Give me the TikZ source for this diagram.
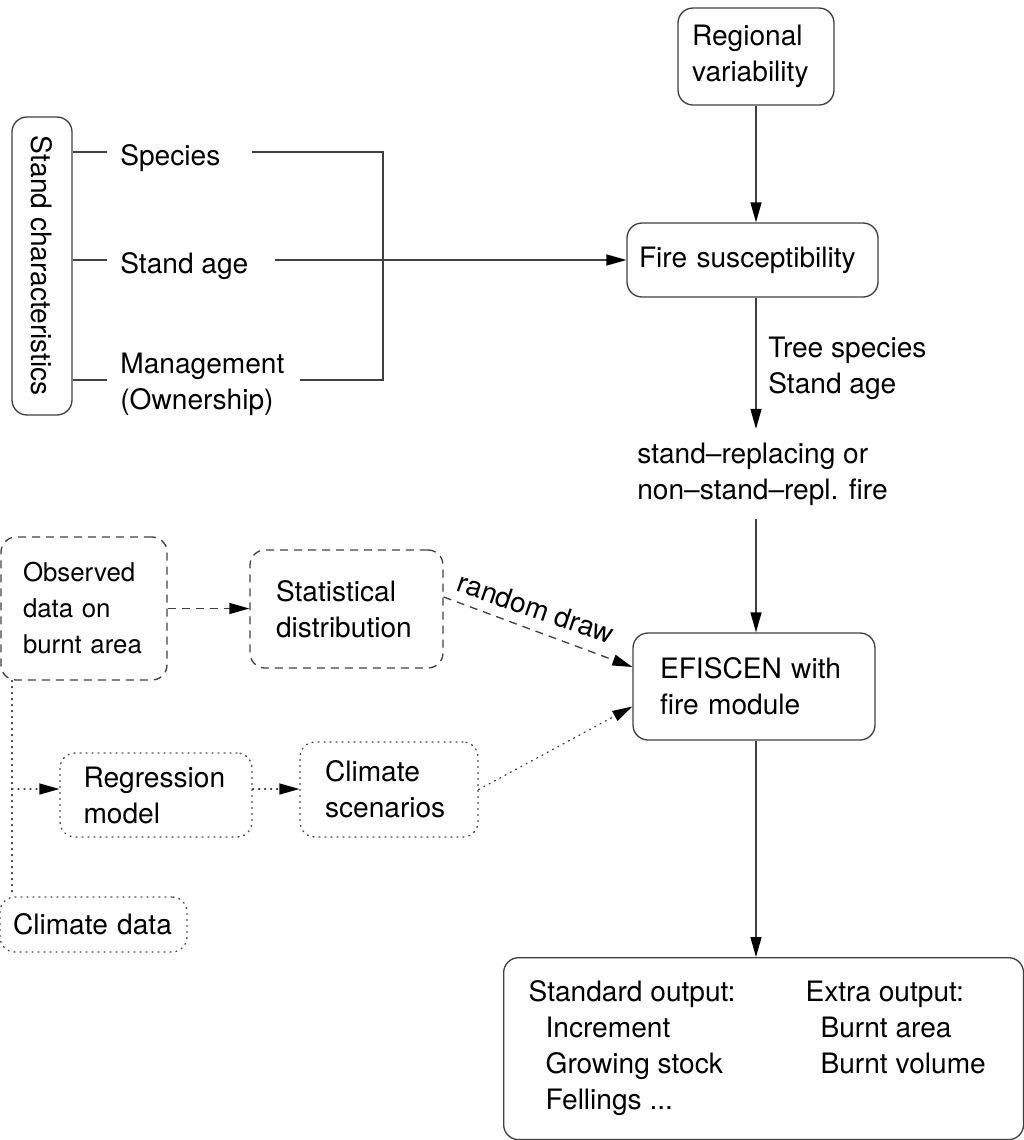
\documentclass[tikz,border=0pt]{standalone}
\usepackage{fontspec}
\setmainfont{TeX Gyre Heros}
\usetikzlibrary{arrows.meta,calc}
\begin{document}
\begin{tikzpicture}[x=0.02cm,y=-0.02cm,
  every node/.style={font=\fontsize{16}{20.5}\selectfont, text=black},
  ln/.style={draw=black!75, line width=0.75pt},
  arr/.style={ln, -{Triangle[length=0.4cm,width=0.22cm,color=black]}},
  box/.style={ln, rounded corners=0.3cm, align=left, inner ysep=0pt},
  dashln/.style={dash pattern=on 0.16cm off 0.12cm},
  dotln/.style={dash pattern=on 0.02cm off 0.1cm, line cap=round},
  txt/.style={inner sep=0pt, align=left}]
\useasboundingbox (0,0) rectangle (1024,1140);
\clip (0,0) rectangle (1024,1140);

% stand characteristics
\node[box, minimum width=1.2cm, minimum height=5.96cm, inner sep=0pt] (stand) at (42,266) {\rotatebox{-90}{Stand characteristics}};
\node[txt, anchor=base west] (sp) at (120,165) {Species};
\node[txt, anchor=base west] (sa) at (120,273) {Stand age};
\node[txt, anchor=west] (mg) at (120,384) {Management\\(Ownership)};
\coordinate (spL) at (107,152);
\coordinate (saL) at (107,260);
\coordinate (mgL) at (107,380);
\coordinate (spR) at (252,152);
\coordinate (saR) at (275,260);
\coordinate (mgR) at (300,380);
\coordinate (jn) at (383,380);
\draw[ln] (stand.east |- spL) -- (spL);
\draw[ln] (stand.east |- saL) -- (saL);
\draw[ln] (stand.east |- mgL) -- (mgL);
\draw[ln] (spR) -| (jn) -- (mgR);

% right column
\node[box, text width=2.56cm, inner xsep=0.28cm, minimum height=1.94cm] (regv) at (756,56.5) {Regional\\variability};
\node[box, text width=4.54cm, inner xsep=0.24cm, minimum height=1.48cm] (fire) at (752.5,260) {Fire susceptibility};
\draw[arr] (saR) -- (saR -| fire.west);
\draw[arr] (regv.south) -- (regv.south |- fire.north);
\node[txt, anchor=west] (tsp) at (768,368) {Tree species\\Stand age};
\node[txt, anchor=west, inner ysep=0.27cm] (ftype) at (637,474) {stand--replacing or\\non--stand--repl. fire};
\draw[arr] (regv.south |- fire.south) -- (regv.south |- ftype.north);
\node[box, text width=3.76cm, inner xsep=0.54cm, minimum height=2.14cm] (efi) at (754,686.5) {EFISCEN with\\fire module};
\draw[arr] (regv.south |- ftype.south) -- (regv.south |- efi.north);
\node[box, anchor=north west, inner xsep=0.5cm, minimum height=3.64cm] (out) at (503,957) {%
\begin{tabular}{@{}p{5.54cm}@{}p{3.86cm}@{}}
Standard output: & Extra output:\\
\hspace*{0.34cm}Increment & \hspace*{0.3cm}Burnt area\\
\hspace*{0.34cm}Growing stock & \hspace*{0.3cm}Burnt volume\\
\hspace*{0.34cm}Fellings ... & \\
\end{tabular}};
\draw[arr] (regv.south |- efi.south) -- (regv.south |- out.north);

% lower left
\node[box, dashln, font=\fontsize{14.7}{20.5}\selectfont, text width=2.44cm, inner xsep=0.44cm, minimum height=2.86cm] (obs) at (84,608.5) {Observed\\data on\\burnt area};
\node[box, dashln, text width=2.82cm, inner xsep=0.52cm, minimum height=2.36cm] (stat) at (346.5,609) {Statistical\\distribution};
\draw[arr, dashln] (obs.east) -- (obs.east -| stat.west);
\draw[arr, dashln] ($(stat.east)+(0,-12)$) -- ($(efi.west)+(0,-19.5)$);
\node[txt, rotate=-19] (rd) at (536,608) {random draw};

\node[box, dotln, text width=2.9cm, inner xsep=0.47cm, minimum height=1.68cm] (regr) at (156,795) {Regression\\model};
\node[box, dotln, text width=2.56cm, inner xsep=0.5cm, minimum height=1.9cm] (cs) at (389,789.5) {Climate\\scenarios};
\node[box, dotln, text width=3.22cm, inner xsep=0.26cm, minimum height=1.1cm] (cd) at (93.5,924.5) {Climate data};
\coordinate (vx) at (12,0);
\draw[ln, dotln] (vx |- obs.south) -- (vx |- cd.north);
\draw[arr, dotln] ($(regr.west -| vx)+(0,-6)$) -- ($(regr.west)+(0,-6)$);
\draw[arr, dotln] ($(regr.east)+(0,-6)$) -- ($(regr.east -| cs.west)+(0,-6)$);
\draw[arr, dotln] (cs.east) -- ($(efi.west)+(0,20)$);
\end{tikzpicture}
\end{document}
